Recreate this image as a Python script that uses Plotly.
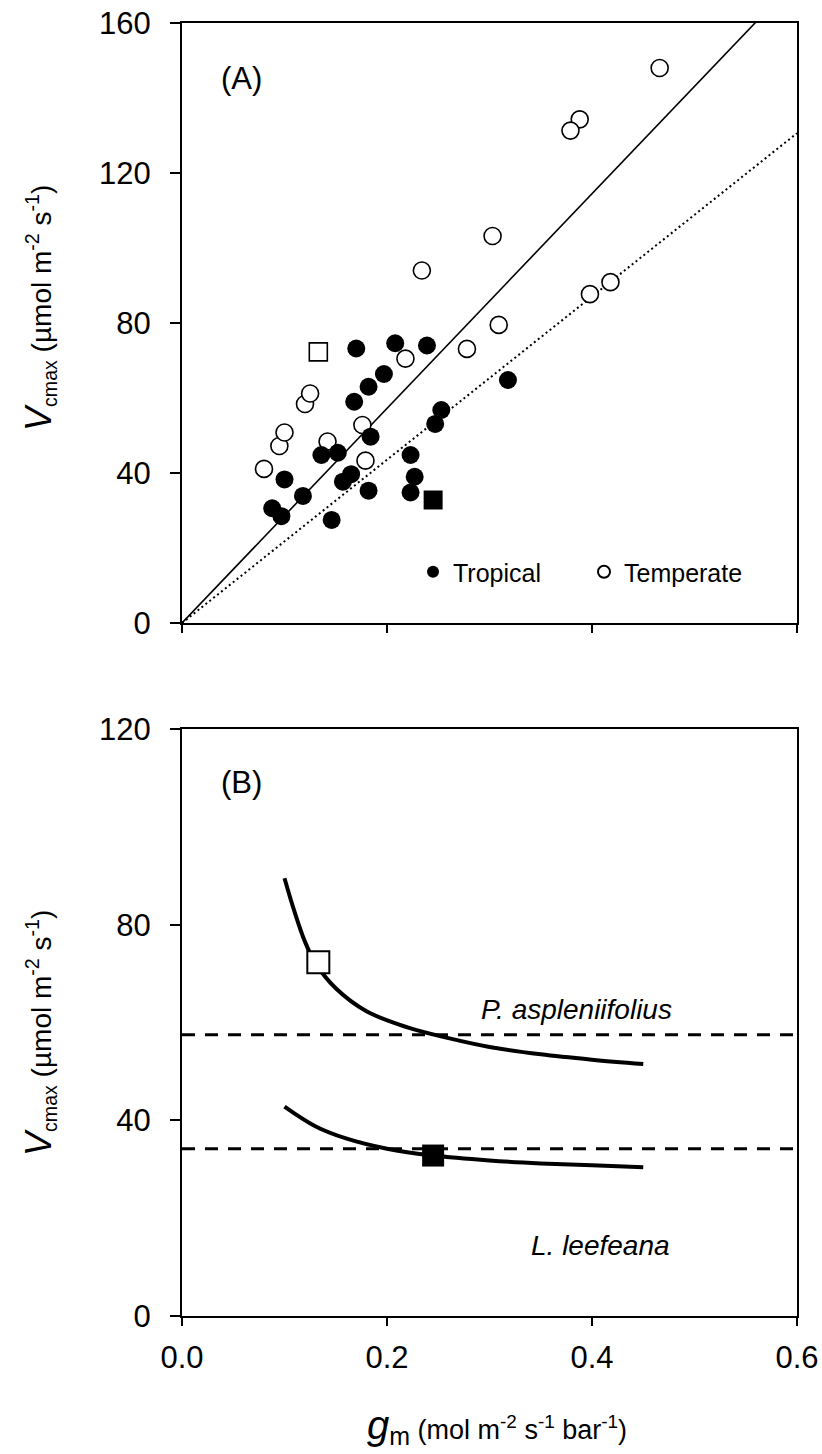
import plotly.graph_objects as go

# ---------------- Data ----------------
# Panel A: Vcmax vs gm
trop_x = [0.170, 0.208, 0.239, 0.197, 0.182, 0.168, 0.318, 0.253, 0.247, 0.184, 0.136, 0.152,
          0.223, 0.165, 0.157, 0.227, 0.100, 0.182, 0.223, 0.118, 0.088, 0.097, 0.146]
trop_y = [73.2, 74.6, 74.0, 66.4, 63.0, 59.0, 64.8, 56.8, 53.1, 49.7, 44.8, 45.4,
          44.8, 39.7, 37.7, 39.0, 38.3, 35.3, 34.8, 33.9, 30.6, 28.5, 27.5]

temp_x = [0.080, 0.095, 0.100, 0.120, 0.125, 0.142, 0.176, 0.179, 0.218, 0.278, 0.309,
          0.466, 0.388, 0.379, 0.303, 0.234, 0.418, 0.398]
temp_y = [41.1, 47.2, 50.8, 58.4, 61.2, 48.4, 52.8, 43.3, 70.5, 73.1, 79.5,
          148.0, 134.3, 131.3, 103.2, 94.0, 90.9, 87.7]

# highlighted species (P. aspleniifolius = open square, L. leefeana = filled square)
pasp_gm, pasp_v = [0.133], [72.3]
llee_gm, llee_v = [0.245], [32.8]

# regression lines through origin (slopes)
reg_x = [0.0, 0.6]
slope_solid = 286.2
slope_dotted = 217.7

# Panel B: modelled Vcmax vs gm curves
curve_p_x = [0.10, 0.11, 0.12, 0.13, 0.15, 0.18, 0.22, 0.26, 0.30, 0.35, 0.40, 0.45]
curve_p_y = [89.5, 82.5, 76.5, 72.2, 67.0, 62.3, 59.0, 56.8, 55.0, 53.5, 52.4, 51.5]
curve_l_x = [0.10, 0.13, 0.16, 0.20, 0.245, 0.30, 0.35, 0.40, 0.45]
curve_l_y = [42.8, 38.8, 36.3, 34.2, 32.8, 31.8, 31.2, 30.8, 30.4]
hline_x = [0.0, 0.6]
hline_p = 57.5
hline_l = 34.2

xticks = [0.0, 0.2, 0.4, 0.6]
yticks_a = [0, 40, 80, 120, 160]
yticks_b = [0, 40, 80, 120]

FONT = "Liberation Sans, Arial, sans-serif"
W, H = 822, 1454

fig = go.Figure()

# ---- Panel A ----
fig.add_trace(go.Scatter(x=reg_x, y=[slope_solid * v for v in reg_x], mode="lines",
                         line=dict(color="black", width=1.6), showlegend=False,
                         xaxis="x", yaxis="y"))
fig.add_trace(go.Scatter(x=reg_x, y=[slope_dotted * v for v in reg_x], mode="lines",
                         line=dict(color="black", width=2, dash="2px,3px"), showlegend=False,
                         xaxis="x", yaxis="y"))
fig.add_trace(go.Scatter(x=temp_x, y=temp_y, mode="markers", name="Temperate",
                         marker=dict(symbol="circle", size=17, color="white",
                                     line=dict(color="black", width=1.6)),
                         xaxis="x", yaxis="y"))
fig.add_trace(go.Scatter(x=trop_x, y=trop_y, mode="markers", name="Tropical",
                         marker=dict(symbol="circle", size=18, color="black",
                                     line=dict(color="black", width=0)),
                         xaxis="x", yaxis="y"))
fig.add_trace(go.Scatter(x=pasp_gm, y=pasp_v, mode="markers", showlegend=False,
                         marker=dict(symbol="square", size=18, color="white",
                                     line=dict(color="black", width=1.6)),
                         xaxis="x", yaxis="y"))
fig.add_trace(go.Scatter(x=llee_gm, y=llee_v, mode="markers", showlegend=False,
                         marker=dict(symbol="square", size=19, color="black"),
                         xaxis="x", yaxis="y"))

# ---- Panel B ----
for hv in (hline_p, hline_l):
    fig.add_trace(go.Scatter(x=hline_x, y=[hv, hv], mode="lines",
                             line=dict(color="black", width=3, dash="13px,10px"),
                             showlegend=False, xaxis="x2", yaxis="y2"))
fig.add_trace(go.Scatter(x=curve_p_x, y=curve_p_y, mode="lines", line_shape="spline",
                         line=dict(color="black", width=4), showlegend=False,
                         xaxis="x2", yaxis="y2"))
fig.add_trace(go.Scatter(x=curve_l_x, y=curve_l_y, mode="lines", line_shape="spline",
                         line=dict(color="black", width=4), showlegend=False,
                         xaxis="x2", yaxis="y2"))
fig.add_trace(go.Scatter(x=pasp_gm, y=pasp_v, mode="markers", showlegend=False,
                         marker=dict(symbol="square", size=22, color="white",
                                     line=dict(color="black", width=2)),
                         xaxis="x2", yaxis="y2"))
fig.add_trace(go.Scatter(x=llee_gm, y=llee_v, mode="markers", showlegend=False,
                         marker=dict(symbol="square", size=22, color="black"),
                         xaxis="x2", yaxis="y2"))

xdom = [182 / W, 797 / W]
ydom_a = [(H - 623) / H, (H - 23) / H]
ydom_b = [(H - 1316) / H, (H - 729) / H]

axis_common = dict(showline=True, linewidth=2, linecolor="black", mirror=True,
                   ticks="outside", tickwidth=2, tickcolor="black",
                   showgrid=False, zeroline=False, automargin=False,
                   tickfont=dict(family=FONT, size=31, color="black"))

fig.update_layout(
    width=W, height=H,
    margin=dict(l=0, r=0, t=0, b=0, autoexpand=False),
    paper_bgcolor="white", plot_bgcolor="white",
    font=dict(family=FONT, color="black"),
    xaxis=dict(domain=xdom, range=[0, 0.6], tickvals=xticks, showticklabels=False,
               ticklen=8, anchor="y", **axis_common),
    yaxis=dict(domain=ydom_a, range=[0, 160], tickvals=yticks_a, ticklen=10,
               ticklabelstandoff=13, anchor="x", **axis_common),
    xaxis2=dict(domain=xdom, range=[0, 0.6], tickvals=xticks, tickformat=".1f",
                ticklen=8, ticklabelstandoff=5, anchor="y2", **axis_common),
    yaxis2=dict(domain=ydom_b, range=[0, 120], tickvals=yticks_b, ticklen=10,
                ticklabelstandoff=13, anchor="x2", **axis_common),
    legend=dict(orientation="h", x=413 / W, y=(H - 572) / H, xanchor="left", yanchor="middle",
                font=dict(family=FONT, size=25, color="black"), bgcolor="rgba(0,0,0,0)",
                itemsizing="constant", traceorder="reversed",
                entrywidth=126, entrywidthmode="pixels"),
    showlegend=True,
)

ytitle = ("<i><span style='font-size:36px'>V</span></i><sub>cmax</sub>"
          " (µmol m<sup>-2</sup> s<sup>-1</sup>)")
annotations = [
    dict(text="(A)", x=0.0576, y=145.3, xref="x", yref="y", showarrow=False,
         font=dict(family=FONT, size=31)),
    dict(text="(B)", x=0.058, y=109.1, xref="x2", yref="y2", showarrow=False,
         font=dict(family=FONT, size=31)),
    dict(text="<i>P. aspleniifolius</i>", x=0.385, y=62.6, xref="x2", yref="y2",
         showarrow=False, font=dict(family=FONT, size=28)),
    dict(text="<i>L. leefeana</i>", x=0.408, y=14.5, xref="x2", yref="y2",
         showarrow=False, font=dict(family=FONT, size=28)),
    dict(text=ytitle, x=39 / W, y=(H - 308) / H, xref="paper", yref="paper",
         xanchor="center", yanchor="middle",
         textangle=-90, showarrow=False, font=dict(family=FONT, size=28)),
    dict(text=ytitle, x=39 / W, y=(H - 1033) / H, xref="paper", yref="paper",
         xanchor="center", yanchor="middle",
         textangle=-90, showarrow=False, font=dict(family=FONT, size=28)),
    dict(text="<i><span style='font-size:40px'>g</span></i><sub><span style='font-size:25px'>m</span></sub>"
              " (mol m<sup>-2</sup> s<sup>-1</sup> bar<sup>-1</sup>)",
         x=497 / W, y=(H - 1426) / H, xref="paper", yref="paper",
         xanchor="center", yanchor="middle",
         showarrow=False, font=dict(family=FONT, size=27)),
]
fig.update_layout(annotations=annotations)

fig.write_html("out.html")
